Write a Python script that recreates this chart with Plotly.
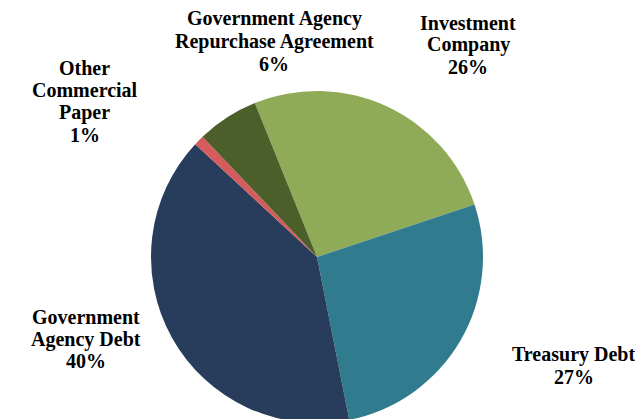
import plotly.graph_objects as go

categories = ["Investment Company", "Treasury Debt", "Government Agency Debt",
              "Other Commercial Paper", "Government Agency Repurchase Agreement"]
values = [26, 27, 40, 1, 6]
label_lines = [["Investment", "Company", "26%"],
               ["Treasury Debt", "27%"],
               ["Government", "Agency Debt", "40%"],
               ["Other", "Commercial", "Paper", "1%"],
               ["Government Agency", "Repurchase Agreement", "6%"]]
colors = ["#8FAB58", "#317B8E", "#283D5C", "#D55C5C", "#4C5E29"]

W, H = 643, 419
FS = 20
# (center x, first-line baseline y, line step) in pixels
label_pos = [(460, 28, 22), (565.5, 359.5, 23), (77.5, 322.5, 22),
             (76.5, 73, 22.4), (266, 24, 22.5)]

cx, cy, r = 309, 249, 166
fig = go.Figure(go.Pie(
    labels=categories, values=values, sort=False, direction="clockwise",
    rotation=-22, textinfo="none", hoverinfo="label+percent",
    marker=dict(colors=colors, line=dict(width=0)),
    domain=dict(x=[(cx - r)/W, (cx + r)/W], y=[(H - cy - r)/H, (H - cy + r)/H]),
    showlegend=False,
))

for lines, (px, by, step) in zip(label_lines, label_pos):
    for i, line in enumerate(lines):
        yc = by + i*step - 0.32*FS - 7
        fig.add_annotation(x=px/W, y=1 - yc/H, xref="paper", yref="paper",
                           text=line, showarrow=False,
                           xanchor="center", yanchor="middle", align="center",
                           font=dict(family="Liberation Serif", size=FS,
                                     color="#000000", weight="bold"))

fig.update_layout(width=W, height=H, margin=dict(l=0, r=0, t=0, b=0),
                  paper_bgcolor="white", plot_bgcolor="white")
fig.write_html("out.html")
